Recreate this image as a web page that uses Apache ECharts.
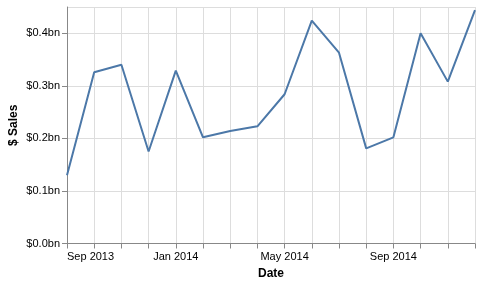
<!DOCTYPE html>
<html>
<head>
<meta charset="utf-8">
<script src="https://cdn.jsdelivr.net/npm/echarts@6/dist/echarts.min.js"></script>
<style>html,body{margin:0;padding:0;background:#fff}#c{width:496px;height:297px}</style>
</head>
<body>
<div id="c"></div>
<script>
const months = ["2013-09","2013-10","2013-11","2013-12","2014-01","2014-02","2014-03","2014-04","2014-05","2014-06","2014-07","2014-08","2014-09","2014-10","2014-11","2014-12"];
const sales = [0.130,0.326,0.340,0.175,0.329,0.202,0.214,0.223,0.284,0.424,0.363,0.181,0.202,0.400,0.308,0.444];
const yTicks = [0,0.1,0.2,0.3,0.4];
const monthNames = ["Jan","Feb","Mar","Apr","May","Jun","Jul","Aug","Sep","Oct","Nov","Dec"];

const chart = echarts.init(document.getElementById('c'), null, {renderer:'canvas'});
const font = 'Liberation Sans, Arial, sans-serif';
chart.setOption({
  animation:false,
  grid:{left:67,right:21,top:7,bottom:53.5,containLabel:false,outerBoundsMode:'none'},
  xAxis:{
    type:'category',
    data:months,
    boundaryGap:false,
    name:'Date',
    nameLocation:'middle',
    nameGap:24,
    nameMoveOverlap:false,
    nameTextStyle:{fontFamily:font,fontSize:12,fontWeight:'bold',color:'#000'},
    axisLine:{lineStyle:{color:'#888',width:1}},
    axisTick:{show:true,interval:0,length:5,lineStyle:{color:'#888'}},
    splitLine:{show:true,interval:0,lineStyle:{color:'#ddd',width:1}},
    axisLabel:{
      interval:3,
      margin:8,
      fontFamily:font,fontSize:11,color:'#000',
      alignMinLabel:'left',
      formatter:function(v){const p=v.split('-');return monthNames[+p[1]-1]+' '+p[0];}
    }
  },
  yAxis:{
    type:'value',
    min:0,max:0.45,interval:0.1,
    name:'$ Sales',
    nameLocation:'middle',
    nameGap:47,
    nameMoveOverlap:false,
    nameTextStyle:{fontFamily:font,fontSize:12,fontWeight:'bold',color:'#000'},
    axisLine:{show:true,lineStyle:{color:'#888',width:1}},
    axisTick:{show:true,length:5,lineStyle:{color:'#888'}},
    splitLine:{show:true,lineStyle:{color:'#ddd',width:1}},
    axisLabel:{
      margin:7,fontFamily:font,fontSize:11,color:'#000',
      showMaxLabel:false,
      formatter:function(v){
        for (const t of yTicks){ if (Math.abs(v-t)<1e-9) return '$'+t.toFixed(1)+'bn'; }
        return '';
      }
    }
  },
  series:[{
    type:'line',
    data:sales,
    symbol:'none',
    lineStyle:{color:'#4c78a8',width:2},
    itemStyle:{color:'#4c78a8'}
  }]
});
</script>
</body>
</html>
